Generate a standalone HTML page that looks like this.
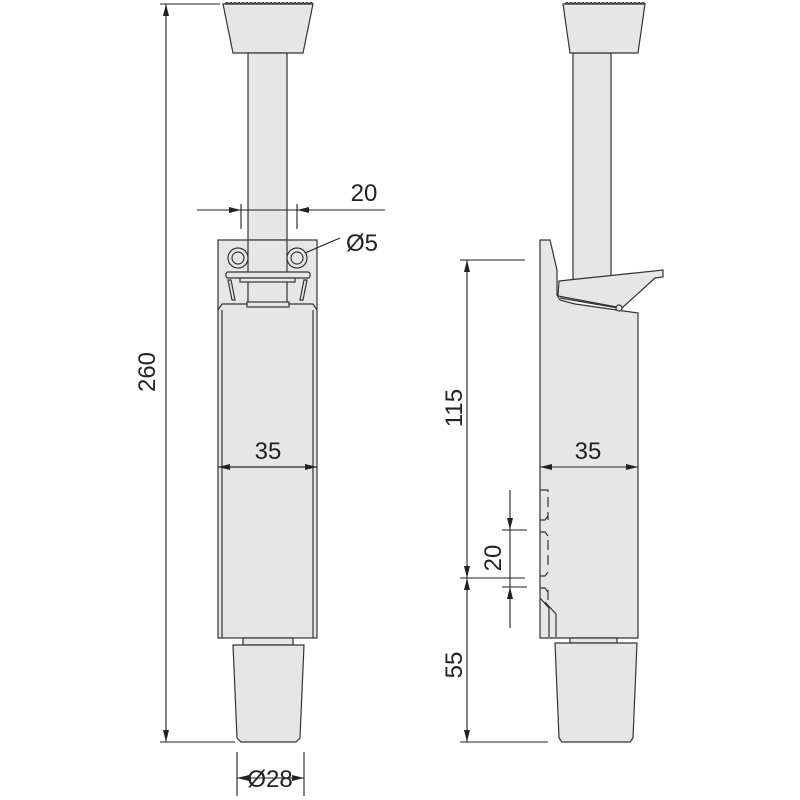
<!DOCTYPE html>
<html><head><style>body{margin:0;background:#fff}svg{display:block}</style></head><body>
<svg width="800" height="800" viewBox="0 0 800 800" xmlns="http://www.w3.org/2000/svg" font-family="Liberation Sans, sans-serif">
<defs>
<marker id="a" viewBox="0 0 12 6" refX="12" refY="3" markerWidth="12" markerHeight="6" orient="auto-start-reverse" markerUnits="userSpaceOnUse"><path d="M0,0 L12,3 L0,6 z" fill="#222"/></marker>
</defs>
<g fill="#e6e6e6" stroke="#333" stroke-width="1.2">
<path d="M223,4 L313,4 L303,53 L233,53 Z"/>
<path d="M225,4 q2,-3 4,0 q2,-3 4,0 q2,-3 4,0 q2,-3 4,0 q2,-3 4,0 q2,-3 4,0 q2,-3 4,0 q2,-3 4,0 q2,-3 4,0 q2,-3 4,0 q2,-3 4,0 q2,-3 4,0 q2,-3 4,0 q2,-3 4,0 q2,-3 4,0 q2,-3 4,0 q2,-3 4,0 q2,-3 4,0 q2,-3 4,0 q2,-3 4,0 q2,-3 4,0 q2,-3 4,0" fill="none"/>
<rect x="248" y="53" width="39" height="188"/>
<rect x="218" y="240" width="99" height="398"/>
<path d="M218,310 L222,304 L313,304 L317,310" fill="none"/>
<line x1="222" y1="310" x2="222" y2="638"/>
<line x1="313" y1="310" x2="313" y2="638"/>
<line x1="218" y1="467" x2="317" y2="467"/>
<rect x="248" y="240" width="39" height="64"/>
<circle cx="238" cy="258" r="10"/><circle cx="238" cy="258" r="6"/>
<circle cx="297" cy="258" r="10"/><circle cx="297" cy="258" r="6"/>
<rect x="226" y="272" width="84" height="6" rx="2"/>
<rect x="240" y="278" width="55" height="4"/>
<rect x="247" y="302" width="42" height="5"/>
<path d="M228,280 L232,300 L235,300 L231,280 Z"/>
<path d="M307,280 L303,300 L300,300 L304,280 Z"/>
<rect x="243" y="638" width="50" height="7"/>
<path d="M233,645 L304,645 L300,738 L296,742 L241,742 L237,738 Z"/>
<path d="M573,53 L611,53 L611,290 L573,290 Z"/>
<path d="M563,4 L645,4 L638,53 L570,53 Z"/>
<path d="M565,4 q2,-3 4,0 q2,-3 4,0 q2,-3 4,0 q2,-3 4,0 q2,-3 4,0 q2,-3 4,0 q2,-3 4,0 q2,-3 4,0 q2,-3 4,0 q2,-3 4,0 q2,-3 4,0 q2,-3 4,0 q2,-3 4,0 q2,-3 4,0 q2,-3 4,0 q2,-3 4,0 q2,-3 4,0 q2,-3 4,0 q2,-3 4,0 q2,-3 4,0" fill="none"/>
<path d="M540,240 L550,240 L557,270 L557,295 L560,300 L575,304 L638,313 L638,638 L540,638 Z"/>
<path d="M559,281 L663,270 L663,277 L655,278 L622,308 L558,296 Z"/>
<path d="M560,298 L618,308" fill="none"/>
<circle cx="619" cy="308" r="3"/>
<rect x="570" y="638" width="47" height="5"/>
<path d="M555,643 L637,643 L633,738 L630,742 L562,742 L559,738 Z"/>
<path d="M540,490 L548,490 L548,520 M548,540 L548,570 M548,590 L548,600" fill="none" stroke-dasharray="10,5"/>
<path d="M540,520 L545,520 L548,516 M540,532 L545,532 L548,536 M540,576 L545,576 L548,572 M540,588 L545,588 L548,592 M540,598 L549,608 L549,637 M556,637 L556,614 L545,602" fill="none"/>
</g>
<g stroke="#222" stroke-width="1.1" fill="none">
<line x1="160" y1="4" x2="220" y2="4"/>
<line x1="160" y1="742" x2="235" y2="742"/>
<line x1="166" y1="4" x2="166" y2="742" marker-start="url(#a)" marker-end="url(#a)"/>
<line x1="241" y1="204" x2="241" y2="229"/><line x1="297" y1="204" x2="297" y2="229"/>
<line x1="197" y1="210" x2="241" y2="210" marker-end="url(#a)"/>
<line x1="385" y1="210" x2="297" y2="210" marker-end="url(#a)"/>
<line x1="241" y1="210" x2="297" y2="210"/>
<line x1="305" y1="253" x2="340" y2="238"/>
<line x1="218" y1="467" x2="317" y2="467" marker-start="url(#a)" marker-end="url(#a)"/>
<line x1="237" y1="752" x2="237" y2="796"/><line x1="304" y1="752" x2="304" y2="796"/>
<line x1="237" y1="778" x2="304" y2="778" marker-start="url(#a)" marker-end="url(#a)"/>
<line x1="460" y1="260" x2="525" y2="260"/>
<line x1="460" y1="578" x2="525" y2="578"/>
<line x1="460" y1="742" x2="548" y2="742"/>
<line x1="467" y1="260" x2="467" y2="578" marker-start="url(#a)" marker-end="url(#a)"/>
<line x1="467" y1="578" x2="467" y2="742" marker-start="url(#a)" marker-end="url(#a)"/>
<line x1="540" y1="467" x2="638" y2="467" marker-start="url(#a)" marker-end="url(#a)"/>
<line x1="502" y1="530" x2="527" y2="530"/><line x1="502" y1="587" x2="527" y2="587"/>
<line x1="510" y1="490" x2="510" y2="530" marker-end="url(#a)"/>
<line x1="510" y1="628" x2="510" y2="587" marker-end="url(#a)"/>
<line x1="510" y1="530" x2="510" y2="587"/>
</g>
<g fill="#222" font-size="24">
<text x="155" y="372" text-anchor="middle" transform="rotate(-90 155 372)">260</text>
<text x="364" y="201" text-anchor="middle">20</text>
<text x="362" y="251" text-anchor="middle">Ø5</text>
<text x="268" y="459" text-anchor="middle">35</text>
<text x="270" y="787" text-anchor="middle">Ø28</text>
<text x="462" y="408" text-anchor="middle" transform="rotate(-90 462 408)">115</text>
<text x="462" y="665" text-anchor="middle" transform="rotate(-90 462 665)">55</text>
<text x="501" y="558" text-anchor="middle" transform="rotate(-90 501 558)">20</text>
<text x="588" y="459" text-anchor="middle">35</text>
</g>
</svg>
</body></html>
